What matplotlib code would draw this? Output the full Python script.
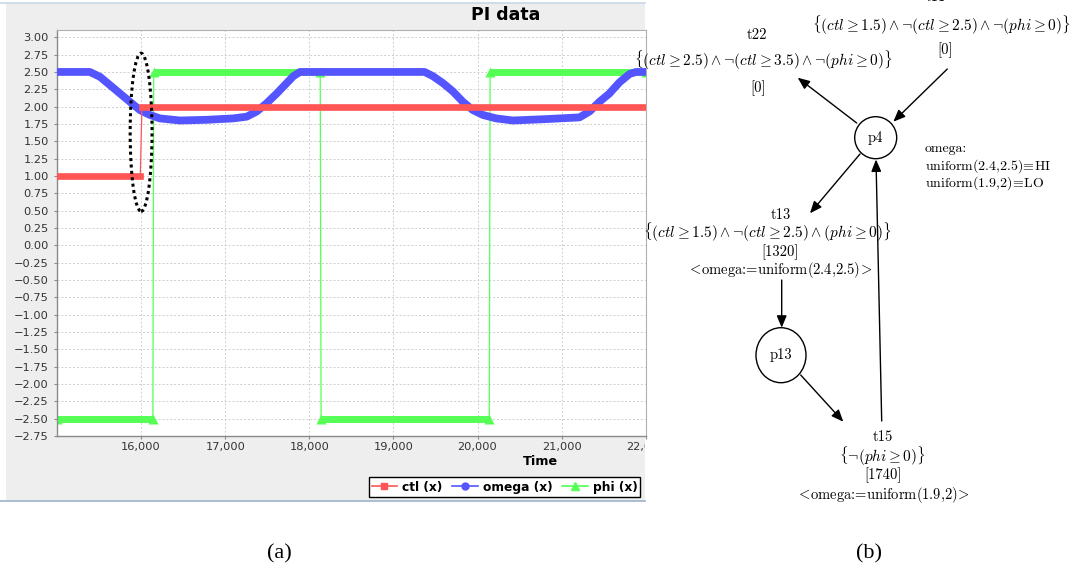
import matplotlib
matplotlib.use("Agg")
import matplotlib.pyplot as plt
from matplotlib.patches import Rectangle, Ellipse, FancyArrowPatch
from matplotlib.lines import Line2D
from matplotlib.ticker import MultipleLocator, FixedLocator, StrMethodFormatter
from matplotlib.transforms import Bbox, TransformedBbox
from matplotlib.font_manager import FontProperties

plt.rcParams["mathtext.fontset"] = "cm"

W, H = 1075, 573

# ---------------- data (left chart) ----------------
ctl_time = [15000, 15990, 16010, 22000]
ctl = [1.0, 1.0, 2.0, 2.0]

omega_time = [15000, 15390, 15511, 15630, 15748, 15867, 15986, 16105, 16223, 16461,
              16778, 17094, 17256, 17375, 17494, 17613, 17732, 17811, 17890, 19370,
              19469, 19588, 19707, 19826, 19945, 20064, 20222, 20420, 20817, 21213,
              21332, 21450, 21569, 21688, 21807, 21886, 22000]
omega = [2.5, 2.5, 2.43, 2.31, 2.19, 2.07, 1.95, 1.88, 1.83, 1.80,
         1.81, 1.83, 1.855, 1.93, 2.05, 2.19, 2.34, 2.44, 2.5, 2.5,
         2.44, 2.34, 2.22, 2.07, 1.95, 1.88, 1.83, 1.80, 1.82, 1.845,
         1.93, 2.07, 2.19, 2.35, 2.47, 2.5, 2.5]

phi_time = [15000, 16140, 16150, 18130, 18140, 20140, 20150, 22000]
phi = [-2.5, -2.5, 2.5, 2.5, -2.5, -2.5, 2.5, 2.5]

series_labels = ["ctl (x)", "omega (x)", "phi (x)"]
x_ticks = [16000, 17000, 18000, 19000, 20000, 21000, 22000]
x_limits = (15000, 22000)
y_limits = (-2.75, 3.105)

# ---------------- data (right diagram) ----------------
guard_t22 = r"$\{(ctl \geq 2.5) \wedge \neg(ctl \geq 3.5) \wedge \neg(phi \geq 0)\}$"
guard_t11 = r"$\{(ctl \geq 1.5) \wedge \neg(ctl \geq 2.5) \wedge \neg(phi \geq 0)\}$"
guard_t13 = r"$\{(ctl \geq 1.5) \wedge \neg(ctl \geq 2.5) \wedge (phi \geq 0)\}$"
guard_t15 = r"$\{\neg(phi \geq 0)\}$"
update_t13 = r"$<\!$omega:=uniform(2.4,2.5)$\!>$"
update_t15 = r"$<\!$omega:=uniform(1.9,2)$\!>$"
omega_levels = ["omega:", r"uniform(2.4,2.5)$\!\equiv\!$HI", r"uniform(1.9,2)$\!\equiv\!$LO"]

RED, BLUE, GREEN = "#FF5555", "#5555FF", "#55FF55"

fig = plt.figure(figsize=(W / 100, H / 100), dpi=100)
fig.patch.set_facecolor("white")


def fp(x, y):
    return (x / W, 1 - y / H)


# grey chart panel
panel = Rectangle(fp(6, 501), (645 - 6) / W, (501 - 3) / H, transform=fig.transFigure,
                  facecolor="#EEEEEE", edgecolor="none", zorder=-2)
fig.add_artist(panel)
for yy, col in [(3, "#C9D7E8"), (501, "#9DB2CB")]:
    fig.add_artist(Line2D([0, 645 / W], [1 - yy / H] * 2, transform=fig.transFigure,
                          color=col, lw=1.2, zorder=-1))

# axes
x0, x1, yt, yb = 57, 645.7, 30, 436
ax = fig.add_axes([x0 / W, 1 - yb / H, (x1 - x0) / W, (yb - yt) / H])
ax.set_facecolor("white")
ax.set_xlim(*x_limits)
ax.set_ylim(*y_limits)
ax.xaxis.set_major_locator(FixedLocator(x_ticks))
ax.xaxis.set_major_formatter(StrMethodFormatter("{x:,.0f}"))
ax.yaxis.set_major_locator(MultipleLocator(0.25))
ax.yaxis.set_major_formatter(StrMethodFormatter("{x:.2f}"))
ax.set_axisbelow(True)
ax.grid(True, color="#CFCFCF", ls=(0, (2, 2)), lw=0.7)
for s in ["left", "bottom"]:
    ax.spines[s].set_color("#8A8A8A")
    ax.spines[s].set_linewidth(1.0)
for s in ["top", "right"]:
    ax.spines[s].set_color("#B0B0B0")
    ax.spines[s].set_linewidth(0.8)
ax.tick_params(axis="both", length=2, width=0.8, color="#8A8A8A",
               labelcolor="#333333", labelsize=8.2)
ax.tick_params(axis="y", pad=4)
ax.tick_params(axis="x", pad=2)


def runs(t, v):
    out, start = [], 0
    for i in range(1, len(v) + 1):
        if i == len(v) or v[i] != v[start]:
            out.append((t[start:i], v[start:i]))
            start = i
    return out


# phi (drawn first)
ax.plot(phi_time, phi, color=GREEN, lw=0.9, zorder=2)
for rt, rv in runs(phi_time, phi):
    ax.plot(rt, rv, color=GREEN, lw=5.0, solid_capstyle="butt", zorder=2)
    ax.plot([rt[0], rt[-1]], [rv[0], rv[-1]], ls="none", marker="^", ms=6.5,
            color=GREEN, mec="none", zorder=2)

# omega
ax.plot(omega_time, omega, color=BLUE, lw=5.6, solid_capstyle="round",
        solid_joinstyle="round", zorder=3)

# ctl (on top)
ax.plot(ctl_time, ctl, color=RED, lw=0.9, zorder=4)
for rt, rv in runs(ctl_time, ctl):
    ax.plot(rt, rv, color=RED, lw=4.8, solid_capstyle="projecting", zorder=4)

# dotted ellipse highlighting the switch
ax.add_patch(Ellipse((16000, 1.63), 260, 2.28, fill=False, edgecolor="black",
                     ls=(0, (1, 1.1)), lw=2.2, zorder=6))

# clip x tick labels at the panel edge
clipbox = TransformedBbox(Bbox([[0, 0], [645 / W, 1]]), fig.transFigure)
for tk in ax.xaxis.get_major_ticks():
    tk.label1.set_clip_box(clipbox)
    tk.label1.set_clip_on(True)

fig.text(*fp(505.7, 15), "PI data", ha="center", va="center",
         fontweight="bold", fontsize=12.5, color="black")
fig.text(*fp(540.7, 461.7), "Time", ha="center", va="center",
         fontweight="bold", fontsize=9.2, color="black")

handles = [Line2D([], [], color=RED, lw=1.2, marker="s", ms=5),
           Line2D([], [], color=BLUE, lw=1.2, marker="o", ms=5),
           Line2D([], [], color=GREEN, lw=1.2, marker="^", ms=6)]
leg = fig.legend(handles, series_labels, loc="center",
                 bbox_to_anchor=fp((371 + 638) / 2, 487), ncol=3, frameon=True,
                 fancybox=False, edgecolor="black", facecolor="white", framealpha=1,
                 prop=FontProperties(family="DejaVu Sans", weight="bold", size=8.8),
                 handlelength=2.1, handletextpad=0.4, columnspacing=0.8,
                 borderpad=0.25, borderaxespad=0)
leg.get_frame().set_linewidth(1.0)

# ---------------- right diagram ----------------
def T(x, y, s, size=10.5, ha="center", va="center"):
    fig.text(*fp(x, y), s, ha=ha, va=va, fontsize=size, family="cmr10", color="black")


T(936, 1.2, "t11", va="baseline")
T(941.7, 25.5, guard_t11, size=11)
T(945, 50.3, "[0]")
T(756.7, 35.5, "t22")
T(763, 60.3, guard_t22, size=11)
T(758, 88, "[0]")

T(875.7, 137.7, "p4")
T(925, 149, omega_levels[0], size=10, ha="left")
T(925, 166, omega_levels[1], size=10, ha="left")
T(925, 183, omega_levels[2], size=10, ha="left")

T(781.3, 215, "t13")
T(766.7, 232, guard_t13, size=11)
T(780, 251.7, "[1320]")
T(779.7, 270.5, update_t13)

T(781, 355.2, "p13")

T(882.5, 436.7, "t15")
T(882.5, 455.8, guard_t15, size=11)
T(882.5, 475, "[1740]")
T(882.5, 495, update_t15)

fig.add_artist(Ellipse(fp(875.7, 137.7), 42 / W, 42 / H, transform=fig.transFigure,
                       fill=False, edgecolor="black", lw=1.0))
fig.add_artist(Ellipse(fp(781, 355.2), 50 / W, 55 / H, transform=fig.transFigure,
                       fill=False, edgecolor="black", lw=1.0))


def arrow(p, q):
    fig.add_artist(FancyArrowPatch(fp(*p), fp(*q), transform=fig.transFigure,
                                   arrowstyle="-|>,head_length=0.72,head_width=0.3",
                                   mutation_scale=10, lw=1.0, color="black",
                                   shrinkA=0, shrinkB=0))


arrow((856.7, 123), (797.7, 77.7))
arrow((947.3, 69), (893.3, 121.7))
arrow((860, 154), (810, 213.3))
arrow((881.7, 421), (876, 159.5))
arrow((781.7, 280), (781.7, 327.7))
arrow((800.7, 375), (843.3, 421.7))

fig.text(*fp(279, 554), "(a)", ha="center", va="center", family="Liberation Serif",
         fontsize=16)
fig.text(*fp(869, 554), "(b)", ha="center", va="center", family="Liberation Serif",
         fontsize=16)

fig.savefig("out.png", dpi=100, facecolor="white")
